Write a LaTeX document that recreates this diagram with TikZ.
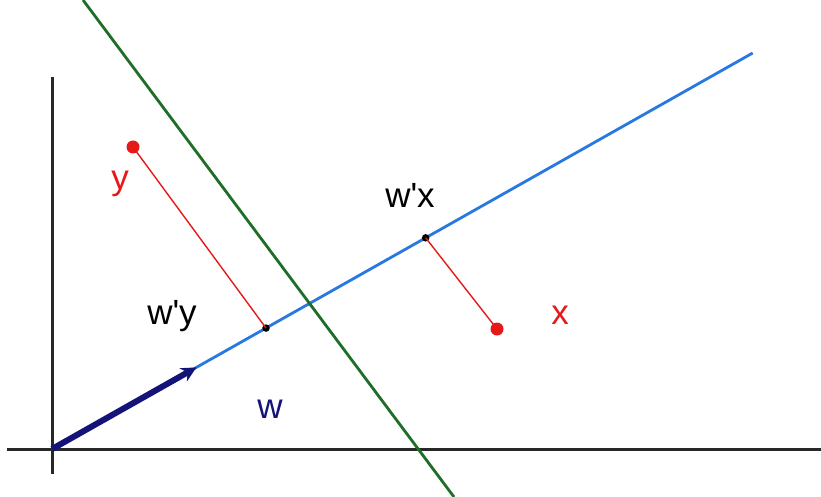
\documentclass[tikz,border=0pt]{standalone}
\usepackage{fontspec}
\setmainfont{Liberation Sans}
\usetikzlibrary{arrows.meta,calc}
\definecolor{axisgray}{RGB}{40,40,40}
\definecolor{lineblue}{RGB}{40,120,225}
\definecolor{arrowblue}{RGB}{20,20,120}
\definecolor{hypgreen}{RGB}{30,110,40}
\definecolor{ptred}{RGB}{230,25,25}
\tikzset{
  axis/.style={draw=axisgray,line width=3pt},
  wline/.style={draw=lineblue,line width=2.8pt},
  hyp/.style={draw=hypgreen,line width=2.8pt},
  proj/.style={draw=ptred,line width=1.4pt},
  wvec/.style={draw=arrowblue,line width=6pt,-{Stealth[length=15pt,width=15pt]}},
  reddot/.style={circle,fill=ptred,inner sep=0pt,minimum size=13pt},
  blackdot/.style={circle,fill=black,inner sep=0pt,minimum size=7.5pt},
  lbl/.style={font=\fontsize{35}{40}\selectfont,inner sep=0pt},
}
\begin{document}
\begin{tikzpicture}[x=1pt,y=-1pt]
\useasboundingbox (0,0) rectangle (821,497);
\coordinate (O) at (52,449);
\coordinate (E) at (752.7,53);
\coordinate (hl) at (7,449);
\coordinate (hr) at (821,449);
\coordinate (vt) at (52,77);
\coordinate (vb) at (52,474);
\coordinate (gt) at (83,0);
\coordinate (gb) at (454,497);
% axes
\draw[axis] (hl) -- (hr);
\draw[axis] (vt) -- (vb);
% w line
\draw[wline] (O) -- (E);
% hyperplane
\draw[hyp] (gt) -- (gb);
% points
\node[reddot] (Y) at (133,147) {};
\node[reddot] (X) at (497,329) {};
\node[blackdot] (PY) at ($(O)!0.3054!(E)$) {};
\node[blackdot] (PX) at ($(O)!0.5333!(E)$) {};
\draw[proj] (Y.center) -- (PY.center);
\draw[proj] (X.center) -- (PX.center);
% w vector
\coordinate (WT) at ($(O)!0.206!(E)$);
\draw[wvec] (O) -- (WT);
% labels
\node[lbl,text=ptred] (ly) at (120,184) {y};
\node[lbl,text=ptred] (lx) at (560,315) {x};
\node[lbl] (lwy) at (172,316) {w\textquotesingle y};
\node[lbl] (lwx) at (410,195) {w\textquotesingle x};
\node[lbl,text=arrowblue] (lw) at (270,409) {w};
\end{tikzpicture}
\end{document}
